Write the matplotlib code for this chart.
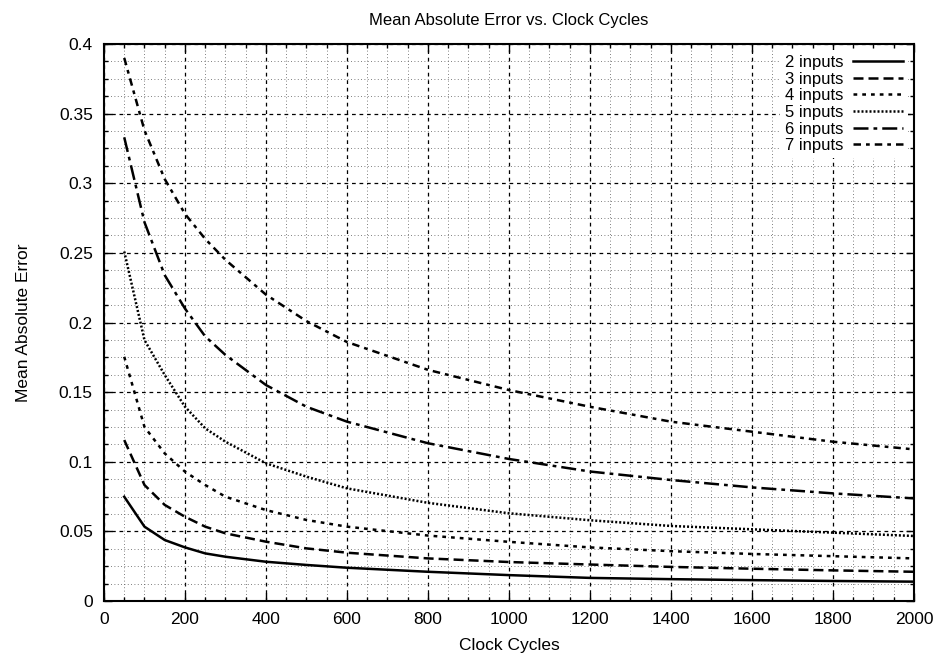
# Mean absolute error vs clock cycles (gnuplot-style line chart)

import matplotlib
matplotlib.use("Agg")
import matplotlib.pyplot as plt
from matplotlib.ticker import MultipleLocator

plt.rcParams["font.family"] = ["Liberation Sans", "DejaVu Sans"]

# Data
cycles = [50, 100, 150, 200, 250, 300, 400, 500, 600, 800, 1000, 1200, 1400, 1600, 1800, 2000]

err_2 = [0.0749, 0.0534, 0.0438, 0.0385, 0.0342, 0.0318, 0.0282, 0.0259, 0.0239,
         0.0210, 0.0186, 0.0166, 0.0157, 0.0150, 0.0144, 0.0139]
err_3 = [0.1156, 0.0833, 0.0690, 0.0605, 0.0534, 0.0486, 0.0426, 0.0378, 0.0347,
         0.0306, 0.0280, 0.0262, 0.0245, 0.0232, 0.0220, 0.0210]
err_4 = [0.1754, 0.1250, 0.1060, 0.0929, 0.0833, 0.0749, 0.0653, 0.0582, 0.0534,
         0.0470, 0.0425, 0.0385, 0.0358, 0.0338, 0.0322, 0.0306]
err_5 = [0.2510, 0.1874, 0.1623, 0.1395, 0.1240, 0.1144, 0.0989, 0.0893, 0.0809,
         0.0705, 0.0630, 0.0580, 0.0539, 0.0515, 0.0491, 0.0467]
err_6 = [0.3330, 0.2720, 0.2340, 0.2100, 0.1900, 0.1767, 0.1551, 0.1395, 0.1288,
         0.1133, 0.1020, 0.0930, 0.0869, 0.0816, 0.0773, 0.0737]
err_7 = [0.3900, 0.3380, 0.3030, 0.2780, 0.2600, 0.2450, 0.2200, 0.2010, 0.1860,
         0.1660, 0.1515, 0.1395, 0.1288, 0.1216, 0.1144, 0.1089]

labels = ["2 inputs", "3 inputs", "4 inputs", "5 inputs", "6 inputs", "7 inputs"]
series = [err_2, err_3, err_4, err_5, err_6, err_7]
styles = ["-", (0, (4, 2)), (0, (1.5, 2)), (0, (0.8, 0.8)), (0, (6, 2, 1.5, 2)), (0, (3, 2, 1.5, 2))]


fig = plt.figure(figsize=(9.41, 6.58), dpi=100)
ax = fig.add_axes([0.1105, 0.0866, 0.8608, 0.8465])

for vals, lab, ls in zip(series, labels, styles):
    ax.plot(cycles, vals, color="black", linestyle=ls, linewidth=1.8, label=lab)

ax.set_xlim(0, 2000)
ax.set_ylim(0, 0.4)
ax.xaxis.set_major_locator(MultipleLocator(200))
ax.xaxis.set_minor_locator(MultipleLocator(50))
ax.yaxis.set_major_locator(MultipleLocator(0.05))
ax.yaxis.set_minor_locator(MultipleLocator(0.0125))
ax.set_yticklabels([f"{v:g}" for v in ax.get_yticks()])

# gnuplot look: inward ticks on every side, dashed major grid, dotted minor grid
ax.tick_params(which="both", direction="in", top=True, right=True, labelsize=12.5)
ax.tick_params(which="major", length=6, width=1, pad=8)
ax.tick_params(which="minor", length=3, width=1)
ax.grid(which="major", color="black", linestyle=(0, (3, 3)), linewidth=0.9)
ax.grid(which="minor", color="#555555", linestyle=(0, (1, 3)), linewidth=0.6)
ax.set_axisbelow(True)
for sp in ax.spines.values():
    sp.set_linewidth(1.5)

ax.set_title("Mean Absolute Error vs. Clock Cycles", fontsize=12, pad=14)
ax.set_xlabel("Clock Cycles", fontsize=12.5, labelpad=8)
ax.set_ylabel("Mean Absolute Error", fontsize=12.5, labelpad=20)

# key sits on a white box (no border) that hides the grid, as gnuplot does
leg = ax.legend(loc="upper right", frameon=True, fancybox=False, framealpha=1,
                facecolor="white", edgecolor="none", markerfirst=False, fontsize=12,
                handlelength=3.0, labelspacing=0.1, borderaxespad=0.35,
                borderpad=0.3, handletextpad=0.6)

fig.savefig("out.png", dpi=100)
